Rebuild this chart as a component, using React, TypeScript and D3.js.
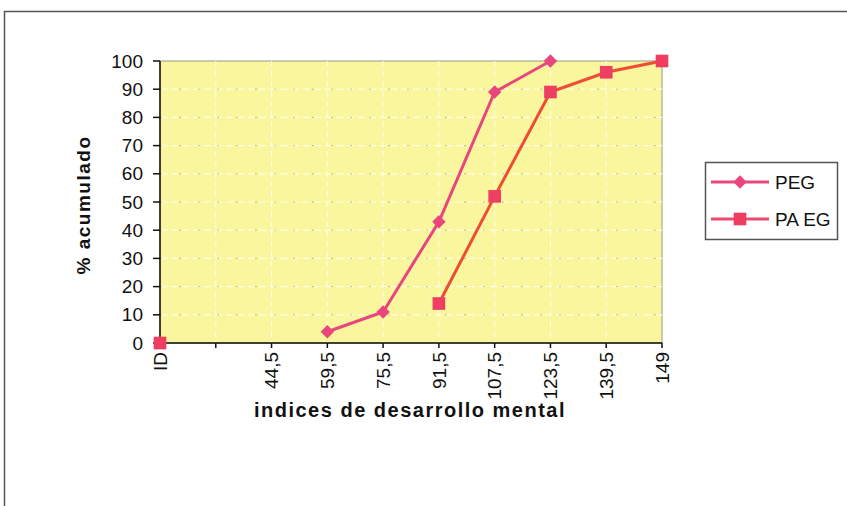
import React, { useEffect, useRef } from 'react';
import * as d3 from 'd3';

// categories on the x axis (the second one is left blank in the original)
const categories = ['ID', '', '44,5', '59,5', '75,5', '91,5', '107,5', '123,5', '139,5', '149'];
const pegValues = [null, null, null, 4, 11, 43, 89, 100, null, null];
const paegValues = [0, null, null, null, null, 14, 52, 89, 96, 100];
const yTicks = [0, 10, 20, 30, 40, 50, 60, 70, 80, 90, 100];

const W = 847;
const H = 506;

const App = () => {
    const ref = useRef(null);

    useEffect(() => {
        const svg = d3.select(ref.current);
        svg.selectAll('*').remove();

        const left = 160, right = 662, top = 61, bottom = 343;

        const x = d3.scalePoint().domain(categories.map((c, i) => String(i))).range([left, right]).padding(0);
        const y = d3.scaleLinear().domain([0, 100]).range([bottom, top]);
        const xi = (i) => x(String(i));

        // outer frame
        svg.append('rect')
            .attr('x', 4.5).attr('y', 11.5)
            .attr('width', 900).attr('height', 600)
            .attr('fill', 'white')
            .attr('stroke', '#555').attr('stroke-width', 1.5);

        // plot background
        svg.append('rect')
            .attr('x', left).attr('y', top)
            .attr('width', right - left).attr('height', bottom - top)
            .attr('fill', '#f9f69e')
            .attr('stroke', '#9a9a80').attr('stroke-width', 1);

        // grid
        const grid = svg.append('g');
        yTicks.filter(t => t > 0 && t < 100).forEach(t => {
            grid.append('line')
                .attr('x1', left).attr('x2', right)
                .attr('y1', y(t)).attr('y2', y(t))
                .attr('stroke', '#fffde8').attr('stroke-width', 1.2)
                .attr('stroke-dasharray', '7,4');
            grid.append('line')
                .attr('x1', left).attr('x2', right)
                .attr('y1', y(t)).attr('y2', y(t))
                .attr('stroke', '#7f9a4a').attr('stroke-opacity', 0.55)
                .attr('stroke-dasharray', '2,17');
        });
        categories.forEach((c, i) => {
            if (i === 0 || i === categories.length - 1) return;
            grid.append('line')
                .attr('x1', xi(i)).attr('x2', xi(i))
                .attr('y1', top).attr('y2', bottom)
                .attr('stroke', '#fffde8').attr('stroke-width', 1)
                .attr('stroke-dasharray', '6,4');
        });

        // axes
        const axes = svg.append('g').attr('stroke', '#111').attr('stroke-width', 1.5);
        axes.append('line').attr('x1', left).attr('x2', left).attr('y1', top).attr('y2', bottom);
        axes.append('line').attr('x1', left).attr('x2', right).attr('y1', bottom).attr('y2', bottom);
        yTicks.forEach(t => {
            axes.append('line').attr('x1', left - 7).attr('x2', left).attr('y1', y(t)).attr('y2', y(t));
        });
        categories.forEach((c, i) => {
            axes.append('line').attr('x1', xi(i)).attr('x2', xi(i)).attr('y1', bottom).attr('y2', bottom + 5);
        });

        const font = 'Liberation Sans, Arial, sans-serif';

        svg.append('g').selectAll('text')
            .data(yTicks)
            .enter()
            .append('text')
            .attr('x', 143)
            .attr('y', d => y(d))
            .attr('dy', '0.35em')
            .attr('text-anchor', 'end')
            .attr('font-family', font)
            .attr('font-size', 19)
            .attr('fill', '#111')
            .text(d => d);

        svg.append('g').selectAll('text')
            .data(categories)
            .enter()
            .append('text')
            .attr('transform', (d, i) => `translate(${xi(i)},352) rotate(-90)`)
            .attr('dy', '0.35em')
            .attr('text-anchor', 'end')
            .attr('font-family', font)
            .attr('font-size', 19)
            .attr('fill', '#111')
            .text(d => d);

        // titles
        svg.append('text')
            .attr('transform', 'translate(90,205) rotate(-90)')
            .attr('text-anchor', 'middle')
            .attr('font-family', font)
            .attr('font-weight', 'bold')
            .attr('font-size', 19)
            .attr('letter-spacing', 1.5)
            .attr('fill', '#111')
            .text('% acumulado');

        svg.append('text')
            .attr('x', 410).attr('y', 417)
            .attr('text-anchor', 'middle')
            .attr('font-family', font)
            .attr('font-weight', 'bold')
            .attr('font-size', 20)
            .attr('letter-spacing', 1.5)
            .attr('fill', '#111')
            .text('indices de desarrollo mental');

        // series
        const pegColor = '#e9467e';
        const paegLine = '#ef4c36';
        const paegMarker = '#ee3f62';

        const line = d3.line()
            .defined(d => d.v != null)
            .x(d => xi(d.i))
            .y(d => y(d.v));

        const pegPts = pegValues.map((v, i) => ({ i, v }));
        const paegPts = paegValues.map((v, i) => ({ i, v }));

        svg.append('path')
            .datum(pegPts)
            .attr('d', line)
            .attr('fill', 'none')
            .attr('stroke', pegColor)
            .attr('stroke-width', 3);

        svg.append('path')
            .datum(paegPts)
            .attr('d', line)
            .attr('fill', 'none')
            .attr('stroke', paegLine)
            .attr('stroke-width', 3);

        const diamond = d3.symbol().type(d3.symbolDiamond2).size(115);
        const square = d3.symbol().type(d3.symbolSquare).size(160);

        svg.append('g').selectAll('path')
            .data(pegPts.filter(d => d.v != null))
            .enter()
            .append('path')
            .attr('d', diamond)
            .attr('transform', d => `translate(${xi(d.i)},${y(d.v)})`)
            .attr('fill', pegColor);

        svg.append('g').selectAll('path')
            .data(paegPts.filter(d => d.v != null))
            .enter()
            .append('path')
            .attr('d', square)
            .attr('transform', d => `translate(${xi(d.i)},${y(d.v)})`)
            .attr('fill', paegMarker);

        // legend
        const lg = svg.append('g');
        lg.append('rect')
            .attr('x', 705.5).attr('y', 162.5)
            .attr('width', 132).attr('height', 77)
            .attr('fill', 'white')
            .attr('stroke', '#555').attr('stroke-width', 1.5);
        const items = [
            { name: 'PEG', color: pegColor, sym: diamond, fill: pegColor, y: 182 },
            { name: 'PA EG', color: '#ec4a70', sym: square, fill: paegMarker, y: 219 },
        ];
        items.forEach(it => {
            lg.append('line')
                .attr('x1', 711).attr('x2', 769)
                .attr('y1', it.y).attr('y2', it.y)
                .attr('stroke', it.color).attr('stroke-width', 3);
            lg.append('path')
                .attr('d', it.sym)
                .attr('transform', `translate(740,${it.y})`)
                .attr('fill', it.fill);
            lg.append('text')
                .attr('x', 775).attr('y', it.y)
                .attr('dy', '0.35em')
                .attr('font-family', font)
                .attr('font-size', 19)
                .attr('fill', '#111')
                .text(it.name);
        });
    }, []);

    return (
        <svg ref={ref} width={W} height={H} style={{ position: 'absolute', left: 0, top: 0, background: 'white' }}></svg>
    );
};

export default App;
